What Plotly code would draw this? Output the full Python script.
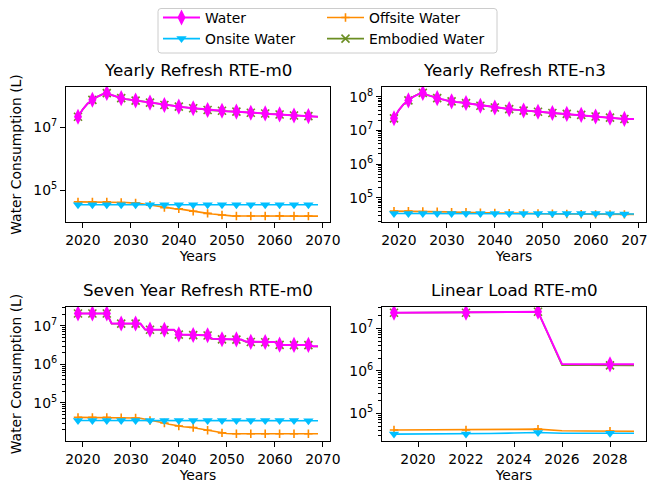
import plotly.graph_objects as go

# ---------------- data ----------------
years_refresh = list(range(2019, 2070))
years_linear = list(range(2019, 2030))

series_names = ["Water", "Onsite Water", "Offsite Water", "Embodied Water"]

# Yearly Refresh RTE-m0
yr_m0_water = [2.2e7, 3.8e7, 5.8e7, 7.6e7, 9.5e7, 1.12e8, 1.25e8, 1.08e8, 9.5e7, 8.6e7,
               8.0e7, 7.6e7, 7.2e7, 6.8e7, 6.5e7, 6.2e7, 5.8e7, 5.5e7, 5.2e7, 5.0e7,
               4.8e7, 4.6e7, 4.4e7, 4.25e7, 4.1e7, 3.9e7, 3.75e7, 3.6e7, 3.5e7, 3.45e7,
               3.4e7, 3.3e7, 3.25e7, 3.2e7, 3.1e7, 3.0e7, 2.95e7, 2.9e7, 2.85e7, 2.8e7,
               2.7e7, 2.65e7, 2.6e7, 2.5e7, 2.45e7, 2.4e7, 2.35e7, 2.32e7, 2.3e7, 2.25e7,
               2.2e7]
yr_m0_embodied = [2.19e7, 3.79e7, 5.79e7, 7.59e7, 9.49e7, 1.119e8, 1.249e8, 1.079e8, 9.49e7, 8.59e7,
                  7.99e7, 7.59e7, 7.19e7, 6.79e7, 6.49e7, 6.19e7, 5.79e7, 5.49e7, 5.19e7, 4.99e7,
                  4.79e7, 4.59e7, 4.39e7, 4.24e7, 4.09e7, 3.89e7, 3.74e7, 3.59e7, 3.49e7, 3.44e7,
                  3.39e7, 3.29e7, 3.24e7, 3.19e7, 3.09e7, 2.99e7, 2.94e7, 2.89e7, 2.84e7, 2.79e7,
                  2.69e7, 2.64e7, 2.59e7, 2.49e7, 2.44e7, 2.39e7, 2.34e7, 2.31e7, 2.29e7, 2.24e7,
                  2.19e7]
yr_m0_onsite = [3.4e4, 3.4e4, 3.4e4, 3.4e4, 3.4e4, 3.4e4, 3.4e4, 3.4e4, 3.4e4, 3.4e4,
                3.4e4, 3.4e4, 3.4e4, 3.4e4, 3.4e4, 3.4e4, 3.4e4, 3.4e4, 3.4e4, 3.4e4,
                3.4e4, 3.4e4, 3.4e4, 3.4e4, 3.4e4, 3.4e4, 3.4e4, 3.4e4, 3.4e4, 3.4e4,
                3.4e4, 3.4e4, 3.4e4, 3.4e4, 3.4e4, 3.4e4, 3.4e4, 3.4e4, 3.4e4, 3.4e4,
                3.4e4, 3.4e4, 3.4e4, 3.4e4, 3.4e4, 3.4e4, 3.4e4, 3.4e4, 3.4e4, 3.4e4,
                3.4e4]
yr_m0_offsite = [4.2e4, 4.2e4, 4.2e4, 4.2e4, 4.2e4, 4.2e4, 4.2e4, 4.1e4, 4.1e4, 4.0e4,
                 4.0e4, 3.9e4, 3.9e4, 3.7e4, 3.5e4, 3.3e4, 3.1e4, 2.9e4, 2.75e4, 2.65e4,
                 2.55e4, 2.5e4, 2.35e4, 2.2e4, 2.1e4, 2.0e4, 1.9e4, 1.8e4, 1.72e4, 1.65e4,
                 1.6e4, 1.52e4, 1.5e4, 1.48e4, 1.48e4, 1.48e4, 1.48e4, 1.48e4, 1.49e4, 1.49e4,
                 1.5e4, 1.5e4, 1.5e4, 1.49e4, 1.48e4, 1.48e4, 1.48e4, 1.47e4, 1.47e4, 1.47e4,
                 1.47e4]

# Yearly Refresh RTE-n3
yr_n3_water = [2.3e7, 4.0e7, 6.0e7, 7.8e7, 1.0e8, 1.18e8, 1.3e8, 1.12e8, 1.0e8, 9.1e7,
               8.4e7, 7.8e7, 7.3e7, 7.0e7, 6.8e7, 6.5e7, 6.1e7, 5.7e7, 5.4e7, 5.2e7,
               5.0e7, 4.8e7, 4.6e7, 4.45e7, 4.3e7, 4.15e7, 4.0e7, 3.9e7, 3.8e7, 3.7e7,
               3.6e7, 3.5e7, 3.4e7, 3.3e7, 3.25e7, 3.15e7, 3.1e7, 3.0e7, 2.95e7, 2.9e7,
               2.8e7, 2.7e7, 2.6e7, 2.55e7, 2.45e7, 2.4e7, 2.3e7, 2.25e7, 2.2e7, 2.2e7,
               2.2e7]
yr_n3_embodied = [2.29e7, 3.99e7, 5.99e7, 7.79e7, 9.99e7, 1.179e8, 1.299e8, 1.119e8, 9.99e7, 9.09e7,
                  8.39e7, 7.79e7, 7.29e7, 6.99e7, 6.79e7, 6.49e7, 6.09e7, 5.69e7, 5.39e7, 5.19e7,
                  4.99e7, 4.79e7, 4.59e7, 4.44e7, 4.29e7, 4.14e7, 3.99e7, 3.89e7, 3.79e7, 3.69e7,
                  3.59e7, 3.49e7, 3.39e7, 3.29e7, 3.24e7, 3.14e7, 3.09e7, 2.99e7, 2.94e7, 2.89e7,
                  2.79e7, 2.69e7, 2.59e7, 2.54e7, 2.44e7, 2.39e7, 2.29e7, 2.24e7, 2.19e7, 2.19e7,
                  2.19e7]
yr_n3_onsite = [3.4e4, 3.4e4, 3.4e4, 3.4e4, 3.4e4, 3.4e4, 3.4e4, 3.4e4, 3.4e4, 3.4e4,
                3.4e4, 3.4e4, 3.4e4, 3.4e4, 3.4e4, 3.4e4, 3.4e4, 3.4e4, 3.4e4, 3.4e4,
                3.4e4, 3.4e4, 3.4e4, 3.4e4, 3.4e4, 3.4e4, 3.4e4, 3.4e4, 3.4e4, 3.4e4,
                3.4e4, 3.4e4, 3.4e4, 3.4e4, 3.4e4, 3.4e4, 3.4e4, 3.4e4, 3.4e4, 3.4e4,
                3.4e4, 3.4e4, 3.4e4, 3.4e4, 3.4e4, 3.35e4, 3.35e4, 3.3e4, 3.3e4, 3.3e4,
                3.3e4]
yr_n3_offsite = [4.0e4, 4.0e4, 4.0e4, 4.0e4, 4.0e4, 3.95e4, 3.9e4, 3.9e4, 3.85e4, 3.85e4,
                 3.8e4, 3.8e4, 3.75e4, 3.75e4, 3.7e4, 3.7e4, 3.65e4, 3.65e4, 3.6e4, 3.6e4,
                 3.55e4, 3.55e4, 3.5e4, 3.5e4, 3.5e4, 3.45e4, 3.45e4, 3.4e4, 3.4e4, 3.4e4,
                 3.4e4, 3.35e4, 3.35e4, 3.35e4, 3.3e4, 3.3e4, 3.3e4, 3.3e4, 3.25e4, 3.25e4,
                 3.25e4, 3.25e4, 3.2e4, 3.2e4, 3.2e4, 3.2e4, 3.2e4, 3.2e4, 3.2e4, 3.2e4,
                 3.2e4]

# Seven Year Refresh RTE-m0
sy_m0_water = [2.1e7, 2.1e7, 2.1e7, 2.1e7, 2.1e7, 2.1e7, 2.1e7,
               1.15e7, 1.15e7, 1.15e7, 1.15e7, 1.15e7, 1.15e7, 1.15e7,
               8.0e6, 8.0e6, 7.95e6, 7.9e6, 7.9e6, 7.9e6, 7.9e6,
               6.0e6, 5.95e6, 5.9e6, 5.8e6, 5.75e6, 5.7e6, 5.7e6,
               4.6e6, 4.55e6, 4.5e6, 4.5e6, 4.5e6, 4.45e6, 4.4e6,
               3.9e6, 3.85e6, 3.85e6, 3.85e6, 3.8e6, 3.8e6, 3.8e6,
               3.25e6, 3.2e6, 3.2e6, 3.2e6, 3.2e6, 3.2e6, 3.2e6,
               2.95e6, 2.95e6]
sy_m0_embodied = [2.09e7, 2.09e7, 2.09e7, 2.09e7, 2.09e7, 2.09e7, 2.09e7,
                  1.14e7, 1.14e7, 1.14e7, 1.14e7, 1.14e7, 1.14e7, 1.14e7,
                  7.93e6, 7.93e6, 7.88e6, 7.83e6, 7.83e6, 7.83e6, 7.83e6,
                  5.93e6, 5.88e6, 5.83e6, 5.73e6, 5.68e6, 5.63e6, 5.63e6,
                  4.55e6, 4.5e6, 4.45e6, 4.45e6, 4.45e6, 4.4e6, 4.35e6,
                  3.85e6, 3.8e6, 3.8e6, 3.8e6, 3.75e6, 3.75e6, 3.75e6,
                  3.2e6, 3.15e6, 3.15e6, 3.15e6, 3.15e6, 3.15e6, 3.15e6,
                  2.9e6, 2.9e6]
sy_m0_onsite = [3.5e4, 3.5e4, 3.5e4, 3.5e4, 3.5e4, 3.5e4, 3.5e4, 3.5e4, 3.5e4, 3.5e4,
                3.5e4, 3.5e4, 3.5e4, 3.5e4, 3.5e4, 3.5e4, 3.5e4, 3.5e4, 3.5e4, 3.5e4,
                3.5e4, 3.5e4, 3.5e4, 3.5e4, 3.5e4, 3.5e4, 3.5e4, 3.5e4, 3.5e4, 3.5e4,
                3.5e4, 3.5e4, 3.5e4, 3.5e4, 3.5e4, 3.5e4, 3.5e4, 3.5e4, 3.5e4, 3.5e4,
                3.5e4, 3.5e4, 3.5e4, 3.5e4, 3.5e4, 3.5e4, 3.5e4, 3.5e4, 3.45e4, 3.45e4,
                3.45e4]
sy_m0_offsite = [4.2e4, 4.2e4, 4.2e4, 4.2e4, 4.2e4, 4.2e4, 4.2e4, 4.15e4, 4.15e4, 4.1e4,
                 4.1e4, 4.1e4, 4.05e4, 4.0e4, 3.8e4, 3.5e4, 3.3e4, 3.15e4, 3.0e4, 2.8e4,
                 2.65e4, 2.5e4, 2.4e4, 2.35e4, 2.3e4, 2.15e4, 2.05e4, 1.95e4, 1.85e4, 1.75e4,
                 1.66e4, 1.6e4, 1.58e4, 1.58e4, 1.58e4, 1.58e4, 1.58e4, 1.58e4, 1.58e4, 1.58e4,
                 1.58e4, 1.58e4, 1.58e4, 1.58e4, 1.58e4, 1.58e4, 1.58e4, 1.58e4, 1.58e4, 1.58e4,
                 1.58e4]

# Linear Load RTE-m0
ll_m0_water = [2.33e7, 2.33e7, 2.33e7, 2.33e7, 2.37e7, 2.41e7, 2.45e7, 1.44e6, 1.43e6, 1.42e6, 1.42e6]
ll_m0_embodied = [2.32e7, 2.32e7, 2.32e7, 2.32e7, 2.36e7, 2.4e7, 2.44e7, 1.36e6, 1.355e6, 1.345e6, 1.345e6]
ll_m0_onsite = [3.25e4, 3.25e4, 3.25e4, 3.25e4, 3.35e4, 3.45e4, 3.55e4, 3.4e4, 3.4e4, 3.4e4, 3.4e4]
ll_m0_offsite = [4.06e4, 4.06e4, 4.06e4, 4.06e4, 4.13e4, 4.2e4, 4.26e4, 3.9e4, 3.85e4, 3.82e4, 3.8e4]

panel_titles = ["Yearly Refresh RTE-m0", "Yearly Refresh RTE-n3",
                "Seven Year Refresh RTE-m0", "Linear Load RTE-m0"]
xtick_refresh = [2020, 2030, 2040, 2050, 2060, 2070]
xtick_linear = [2020, 2022, 2024, 2026, 2028]

# ---------------- layout helpers ----------------
PAGE_OFF = 8            # browser body margin
W, H = 656 - PAGE_OFF, 485 - PAGE_OFF
FONT = "DejaVu Sans"

def fx(p):
    return (p - PAGE_OFF) / W

def fy(p):
    return 1 - (p - PAGE_OFF) / H

styles = {
    "Water": dict(color="#FF00FF", width=2.0, symbol="diamond-tall", size=11.5, outline=False),
    "Onsite Water": dict(color="#00BFFF", width=1.6, symbol="triangle-down", size=9, outline=False),
    "Offsite Water": dict(color="#FF8C00", width=1.6, symbol="cross-thin", size=6, outline=True),
    "Embodied Water": dict(color="#6B8E23", width=1.6, symbol="x-thin", size=8, outline=True),
}

panels = [
    dict(ax="", years=years_refresh, data={"Water": yr_m0_water, "Onsite Water": yr_m0_onsite,
         "Offsite Water": yr_m0_offsite, "Embodied Water": yr_m0_embodied},
         xpx=(66, 330), ypx=(87, 222), xr=[2016.5, 2071.5], xt=xtick_refresh,
         yr=[3.98, 8.29], yt=[5, 7], minor=False, ylabel=True),
    dict(ax="2", years=years_refresh, data={"Water": yr_n3_water, "Onsite Water": yr_n3_onsite,
         "Offsite Water": yr_n3_offsite, "Embodied Water": yr_n3_embodied},
         xpx=(382, 646), ypx=(87, 222), xr=[2016.5, 2071.5], xt=xtick_refresh,
         yr=[4.28, 8.29], yt=[5, 6, 7, 8], minor=True, ylabel=False),
    dict(ax="3", years=years_refresh, data={"Water": sy_m0_water, "Onsite Water": sy_m0_onsite,
         "Offsite Water": sy_m0_offsite, "Embodied Water": sy_m0_embodied},
         xpx=(66, 330), ypx=(307, 441), xr=[2016.5, 2071.5], xt=xtick_refresh,
         yr=[4.01, 7.49], yt=[5, 6, 7], minor=True, ylabel=True),
    dict(ax="4", years=years_linear, data={"Water": ll_m0_water, "Onsite Water": ll_m0_onsite,
         "Offsite Water": ll_m0_offsite, "Embodied Water": ll_m0_embodied},
         xpx=(382, 646), ypx=(307, 441), xr=[2018.5, 2029.5], xt=xtick_linear,
         yr=[4.35, 7.5], yt=[5, 6, 7], minor=True, ylabel=False),
]

draw_order = ["Embodied Water", "Offsite Water", "Onsite Water", "Water"]

fig = go.Figure()

def marker_dict(st):
    if st["outline"]:
        return dict(symbol=st["symbol"], size=st["size"], color=st["color"],
                    line=dict(color=st["color"], width=1.6))
    return dict(symbol=st["symbol"], size=st["size"], color=st["color"], line=dict(width=0))

for p in panels:
    xa = "x" + p["ax"]
    ya = "y" + p["ax"]
    yrs = p["years"]
    for name in draw_order:
        st = styles[name]
        vals = p["data"][name]
        fig.add_trace(go.Scatter(x=yrs, y=vals, mode="lines", xaxis=xa, yaxis=ya,
                                 line=dict(color=st["color"], width=st["width"]),
                                 showlegend=False, hoverinfo="skip"))
        fig.add_trace(go.Scatter(x=yrs[::3], y=vals[::3], mode="markers", xaxis=xa, yaxis=ya,
                                 marker=marker_dict(st), showlegend=False, name=name))

# legend entries (two columns)
for name in series_names:
    st = styles[name]
    fig.add_trace(go.Scatter(x=[None], y=[None], mode="lines+markers", name=name,
                             line=dict(color=st["color"], width=st["width"]),
                             marker=marker_dict(st),
                             legend="legend" if name in ("Water", "Onsite Water") else "legend2"))

layout = dict(
    width=W, height=H, autosize=False,
    margin=dict(l=0, r=0, t=0, b=0, autoexpand=False),
    paper_bgcolor="white", plot_bgcolor="white",
    font=dict(family=FONT, size=13.9, color="black"),
    showlegend=True,
    legend=dict(x=fx(158), y=fy(2), xanchor="left", yanchor="top", orientation="v",
                bgcolor="rgba(0,0,0,0)", borderwidth=0, itemwidth=37,
                font=dict(family=FONT, size=13.9, color="black"), tracegroupgap=0),
    legend2=dict(x=fx(322), y=fy(2), xanchor="left", yanchor="top", orientation="v",
                 bgcolor="rgba(0,0,0,0)", borderwidth=0, itemwidth=37,
                 font=dict(family=FONT, size=13.9, color="black"), tracegroupgap=0),
)

minor_vals = [m * 10 ** k for k in range(3, 9) for m in range(2, 10)]

annotations = []
for i, p in enumerate(panels):
    xkey = "xaxis" + p["ax"]
    ykey = "yaxis" + p["ax"]
    x0, x1 = p["xpx"]
    y0, y1 = p["ypx"]
    layout[xkey] = dict(
        domain=[fx(x0), fx(x1)], range=p["xr"], anchor="y" + p["ax"],
        tickmode="array", tickvals=p["xt"], ticktext=[str(v) for v in p["xt"]],
        ticks="outside", ticklen=5, tickwidth=1, tickcolor="black",
        showline=True, linecolor="black", linewidth=1, mirror=True,
        showgrid=False, zeroline=False, ticklabeloverflow="allow",
        tickfont=dict(family=FONT, size=13.9, color="black"),
        title=dict(text="Years", font=dict(family=FONT, size=13.9, color="black"), standoff=4),
        automargin=False,
    )
    ydict = dict(
        domain=[fy(y1), fy(y0)], type="log", range=p["yr"], anchor="x" + p["ax"],
        tickmode="array", tickvals=[10 ** k for k in p["yt"]],
        ticktext=["10<sup>%d</sup>" % k for k in p["yt"]],
        ticks="outside", ticklen=5, tickwidth=1, tickcolor="black",
        showline=True, linecolor="black", linewidth=1, mirror=True,
        showgrid=False, zeroline=False, ticklabeloverflow="allow",
        tickfont=dict(family=FONT, size=13.9, color="black"),
        automargin=False,
    )
    if p["minor"]:
        ydict["minor"] = dict(tickmode="array", tickvals=minor_vals, ticks="outside",
                              ticklen=3, tickwidth=0.8, tickcolor="black", showgrid=False)
    if p["ylabel"]:
        ydict["title"] = dict(text="Water Consumption (L)",
                              font=dict(family=FONT, size=13.9, color="black"), standoff=17)
    layout[ykey] = ydict
    annotations.append(dict(text=panel_titles[i], xref="paper", yref="paper",
                            x=fx((x0 + x1) / 2), y=fy(y0 - 17), xanchor="center", yanchor="middle",
                            showarrow=False, font=dict(family=FONT, size=16.7, color="black")))

layout["annotations"] = annotations

# legend frame (top edge kept just inside the figure)
lx0, lx1, ly0, ly1, r = 158, 497, 8.5, 53, 3
path = ("M {a},{b} L {c},{b} Q {d},{b} {d},{e} L {d},{f} Q {d},{g} {c},{g} "
        "L {a},{g} Q {h},{g} {h},{f} L {h},{e} Q {h},{b} {a},{b} Z").format(
    a=fx(lx0 + r), b=fy(ly0), c=fx(lx1 - r), d=fx(lx1), e=fy(ly0 + r),
    f=fy(ly1 - r), g=fy(ly1), h=fx(lx0))
layout["shapes"] = [dict(type="path", xref="paper", yref="paper", path=path,
                         line=dict(color="#cccccc", width=1), fillcolor="white", layer="below")]

fig.update_layout(**layout)
fig.write_html("out.html")
